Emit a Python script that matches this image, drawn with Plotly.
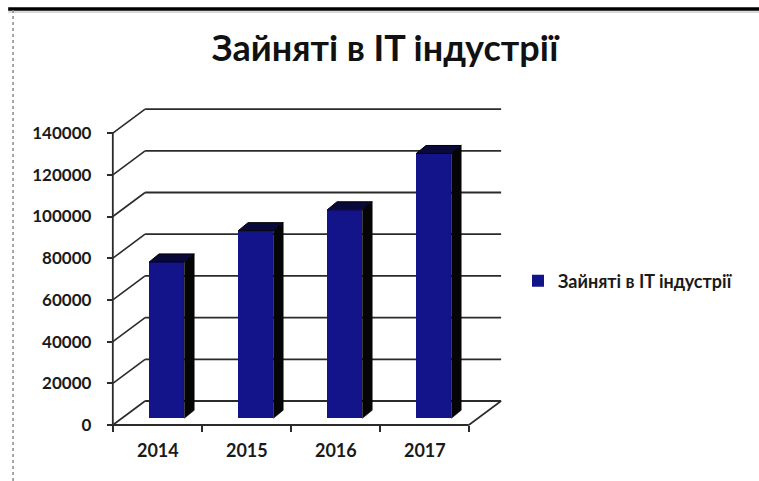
import plotly.graph_objects as go

# ---- data ----
years = ["2014", "2015", "2016", "2017"]
employed = [75000, 90000, 100000, 127000]
y_ticks = [0, 20000, 40000, 60000, 80000, 100000, 120000, 140000]
chart_title = "Зайняті в IT індустрії"
series_name = "Зайняті в IT індустрії"

# ---- geometry (pixels) ----
W, H = 759, 481
L, R, T, B = 105, 515, 100, 432          # plot area (slightly larger than the drawing)
ORIG_X, ORIG_Y = 113, 425                # front-left corner of the floor (value 0)
CAT0_PX = 159                            # front centre of first category
PX_PER_CAT = 91
PX_PER_20K = 41.7
UPX = 20000 / PX_PER_20K                 # value units per vertical pixel
CPX = 1 / PX_PER_CAT                     # category units per horizontal pixel

WALL_DX, WALL_DY = 33, 24                # depth of the floor, px
BAR_F = 0.28                             # depth fraction of bar front plane
BAR_W = 36                               # px
BAR_DX, BAR_DY = 10, 8                   # bar depth, px


def xd(px):
    return (px - CAT0_PX) * CPX


def yd(py):
    return (ORIG_Y - py) * UPX


x_range = [xd(L), xd(R)]
y_range = [yd(B), yd(T)]
x_front_left = xd(ORIG_X)
x_front_right = x_front_left + len(years)
wdx, wdy = WALL_DX * CPX, WALL_DY * UPX

LINE = "#2b2b2b"
shapes = []
# back wall gridlines with their diagonals on the side wall
for v in y_ticks:
    shapes.append(dict(type="line", xref="x", yref="y", layer="below",
                       x0=x_front_left, y0=v, x1=x_front_left + wdx, y1=v + wdy,
                       line=dict(color=LINE, width=1.6)))
    shapes.append(dict(type="line", xref="x", yref="y", layer="below",
                       x0=x_front_left + wdx, y0=v + wdy, x1=x_front_right + wdx, y1=v + wdy,
                       line=dict(color=LINE, width=1.8)))
# floor front edge and right edge
shapes.append(dict(type="line", xref="x", yref="y", layer="below",
                   x0=x_front_left, y0=0, x1=x_front_right, y1=0,
                   line=dict(color=LINE, width=1.8)))
shapes.append(dict(type="line", xref="x", yref="y", layer="below",
                   x0=x_front_right, y0=0, x1=x_front_right + wdx, y1=wdy,
                   line=dict(color=LINE, width=1.6)))
# vertical value axis line
shapes.append(dict(type="line", xref="x", yref="y", layer="below",
                   x0=x_front_left, y0=0, x1=x_front_left, y1=y_ticks[-1],
                   line=dict(color=LINE, width=1.8)))

# outer frame (top thick line, left dotted line)
def xp(px):
    return (px - L) / (R - L)


def yp(py):
    return (B - py) / (B - T)


shapes.append(dict(type="line", xref="paper", yref="paper",
                   x0=xp(6), y0=yp(9), x1=xp(800), y1=yp(9),
                   line=dict(color="#000000", width=3.5)))
shapes.append(dict(type="line", xref="paper", yref="paper",
                   x0=xp(6), y0=yp(12), x1=xp(800), y1=yp(12),
                   line=dict(color="#d8d8d8", width=2)))
shapes.append(dict(type="line", xref="paper", yref="paper",
                   x0=xp(11), y0=yp(10), x1=xp(11), y1=yp(481),
                   line=dict(color="#8a8a8a", width=1.5, dash="dot")))

# ---- bars ----
bf_dx, bf_dy = BAR_F * WALL_DX * CPX, BAR_F * WALL_DY * UPX
bw = BAR_W * CPX
bdx, bdy = BAR_DX * CPX, BAR_DY * UPX
bar_x = [i + bf_dx for i in range(len(years))]

FRONT = "#13138a"
fig = go.Figure()
fig.add_trace(go.Bar(
    x=bar_x, y=employed, base=[bf_dy] * len(years), width=bw,
    marker=dict(color=FRONT, line=dict(width=0)),
    name=series_name, showlegend=True,
))

# side faces and tops of the columns
side_x, side_y, top_x, top_y = [], [], [], []
for xc, v in zip(bar_x, employed):
    xl, xr = xc - bw / 2, xc + bw / 2
    b0, b1 = bf_dy, bf_dy + v
    side_x += [xr, xr, xr + bdx, xr + bdx, xr, None]
    side_y += [b0, b1, b1 + bdy, b0 + bdy, b0, None]
    top_x += [xl, xr, xr + bdx, xl + bdx, xl, None]
    top_y += [b1, b1, b1 + bdy, b1 + bdy, b1, None]
fig.add_trace(go.Scatter(x=side_x, y=side_y, mode="lines", fill="toself",
                         fillcolor="#050505", line=dict(color="#050505", width=0.5),
                         hoverinfo="skip", showlegend=False))
fig.add_trace(go.Scatter(x=top_x, y=top_y, mode="lines", fill="toself",
                         fillcolor="#0a0a3a", line=dict(color="#000000", width=1),
                         hoverinfo="skip", showlegend=False))

XTICKFONT = dict(family="Lato", size=18, color="#1a1a1a", weight="bold")
YTICKFONT = dict(family="Lato", size=17, color="#1a1a1a", weight="bold")

fig.update_layout(
    width=W, height=H,
    margin=dict(l=L, r=W - R, t=T, b=H - B, pad=0),
    paper_bgcolor="white", plot_bgcolor="rgba(0,0,0,0)",
    shapes=shapes,
    title=dict(text=chart_title, xref="container", yref="container",
               x=385 / W, y=1 - 48 / H, xanchor="center", yanchor="middle",
               font=dict(family="Lato", size=36, color="#111111", weight="bold")),
    legend=dict(xref="container", yref="container", x=518 / W, y=1 - 281 / H,
                xanchor="left", yanchor="middle",
                font=dict(family="Lato", size=18, color="#1a1a1a", weight="bold"),
                bgcolor="rgba(0,0,0,0)"),
    xaxis=dict(range=x_range, showgrid=False, zeroline=False, showline=False,
               anchor="free", position=yp(ORIG_Y),
               tickmode="array", tickvals=list(range(len(years))), ticktext=years,
               ticks="", ticklabelstandoff=13, tickfont=XTICKFONT,
               minor=dict(tickmode="array",
                          tickvals=[x_front_left + k for k in range(len(years) + 1)],
                          ticks="outside", ticklen=6, tickcolor=LINE, tickwidth=1.5)),
    yaxis=dict(range=y_range, showgrid=False, zeroline=False, showline=False,
               anchor="free", position=xp(ORIG_X),
               tickmode="array", tickvals=y_ticks, ticktext=[str(v) for v in y_ticks],
               ticks="outside", ticklen=6, tickcolor=LINE, tickwidth=1.5,
               ticklabelstandoff=12, tickfont=YTICKFONT),
    bargap=0,
)

fig.write_html(
    "out.html",
    post_script="document.body.style.margin='0';document.body.style.overflow='hidden';"
                "document.documentElement.style.overflow='hidden';",
)
